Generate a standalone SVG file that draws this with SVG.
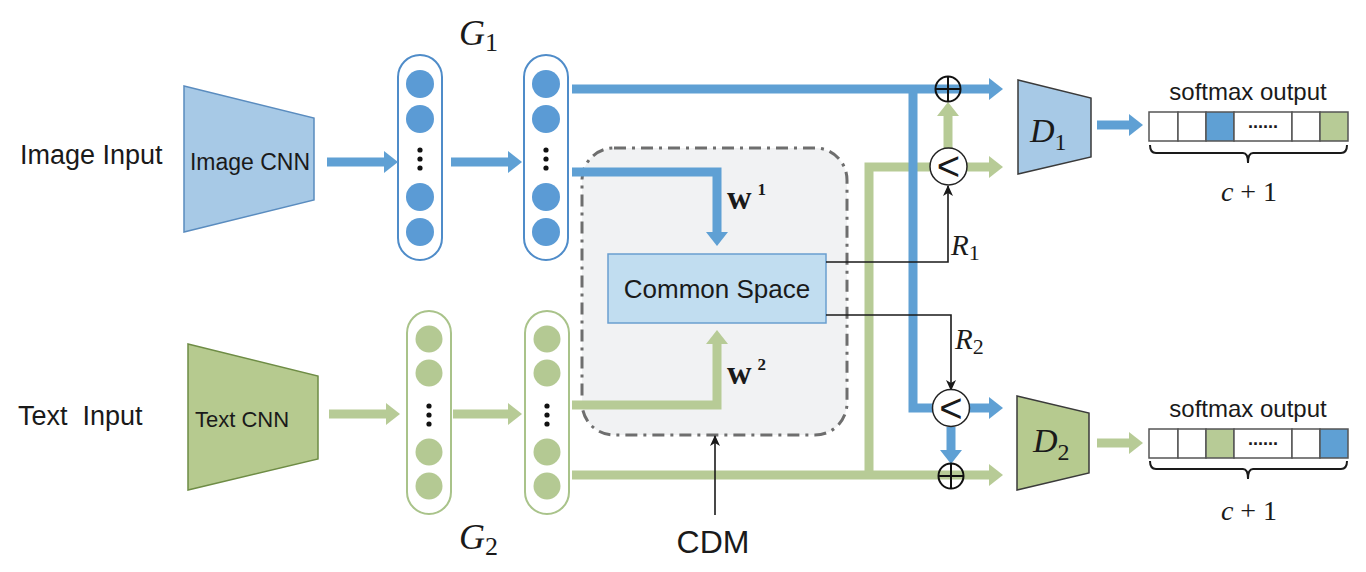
<svg xmlns="http://www.w3.org/2000/svg" width="1366" height="572" viewBox="0 0 1366 572">
<style>
.sans{font-family:"Liberation Sans",Arial,sans-serif;fill:#1a1a1a}
.math{font-family:"Liberation Serif","Times New Roman",serif;fill:#1a1a1a}
.it{font-style:italic}
.bl{fill:none;stroke:#5fa0d4;stroke-width:9}
.gr{fill:none;stroke:#b7cb96;stroke-width:9}
.blk{fill:none;stroke:#1a1a1a;stroke-width:1.6}
.bdot{fill:#5b9bd5}
.gdot{fill:#b4c993}
.dot{fill:#111}
.cell{fill:#fff;stroke:#555;stroke-width:1.5}
</style>
<defs>
<marker id="ab" markerUnits="userSpaceOnUse" markerWidth="14" markerHeight="22" viewBox="0 0 14 22" refX="0" refY="11" orient="auto"><path d="M0,0 L14,11 L0,22 z" fill="#5fa0d4"/></marker>
<marker id="ag" markerUnits="userSpaceOnUse" markerWidth="14" markerHeight="22" viewBox="0 0 14 22" refX="0" refY="11" orient="auto"><path d="M0,0 L14,11 L0,22 z" fill="#b7cb96"/></marker>
<marker id="ak" markerUnits="userSpaceOnUse" markerWidth="11" markerHeight="10" viewBox="0 0 11 10" refX="10" refY="5" orient="auto"><path d="M0,0 L11,5 L0,10 L3,5 z" fill="#1a1a1a"/></marker>
</defs>
<rect width="1366" height="572" fill="#fff"/>

<g id="cdm-box">
<rect x="582" y="148" width="265" height="287" rx="32" fill="#f1f2f3" stroke="#6e6e6e" stroke-width="3" stroke-dasharray="12 6 3 6"/>
</g>

<g id="labels-left">
<text class="sans" x="20" y="164" font-size="27">Image Input</text>
<text class="sans" x="18" y="425" font-size="27" style="white-space:pre">Text  Input</text>
</g>

<g id="image-cnn">
<polygon points="184,86 314,118 314,200 184,232" fill="#a7c9e6" stroke="#5a8cbf" stroke-width="1.5"/>
<text class="sans" x="250" y="170" font-size="23" text-anchor="middle">Image CNN</text>
</g>
<g id="text-cnn">
<polygon points="188,344 318,376 318,459 188,490" fill="#b6ca8f" stroke="#6e8c45" stroke-width="1.5"/>
<text class="sans" x="242" y="427" font-size="22" text-anchor="middle">Text CNN</text>
</g>

<g id="g1-layer1">
<rect x="398" y="55" width="44" height="205" rx="22" fill="#fff" stroke="#4f8cc9" stroke-width="2"/>
<circle class="bdot" cx="420" cy="84" r="14"/><circle class="bdot" cx="420" cy="119" r="14"/>
<circle class="dot" cx="420" cy="150" r="2.6"/><circle class="dot" cx="420" cy="159" r="2.6"/><circle class="dot" cx="420" cy="168" r="2.6"/>
<circle class="bdot" cx="420" cy="197" r="14"/><circle class="bdot" cx="420" cy="232" r="14"/>
</g>
<g id="g1-layer2">
<rect x="524" y="55" width="44" height="205" rx="22" fill="#fff" stroke="#4f8cc9" stroke-width="2"/>
<circle class="bdot" cx="546" cy="84" r="14"/><circle class="bdot" cx="546" cy="119" r="14"/>
<circle class="dot" cx="546" cy="150" r="2.6"/><circle class="dot" cx="546" cy="159" r="2.6"/><circle class="dot" cx="546" cy="168" r="2.6"/>
<circle class="bdot" cx="546" cy="197" r="14"/><circle class="bdot" cx="546" cy="232" r="14"/>
</g>
<g id="g2-layer1">
<rect x="407" y="311" width="44" height="203" rx="22" fill="#fff" stroke="#a9c38a" stroke-width="2"/>
<circle class="gdot" cx="429" cy="339" r="13.5"/><circle class="gdot" cx="429" cy="373" r="13.5"/>
<circle class="dot" cx="429" cy="406" r="2.6"/><circle class="dot" cx="429" cy="415" r="2.6"/><circle class="dot" cx="429" cy="424" r="2.6"/>
<circle class="gdot" cx="429" cy="452" r="13.5"/><circle class="gdot" cx="429" cy="486" r="13.5"/>
</g>
<g id="g2-layer2">
<rect x="525" y="311" width="44" height="203" rx="22" fill="#fff" stroke="#a9c38a" stroke-width="2"/>
<circle class="gdot" cx="547" cy="339" r="13.5"/><circle class="gdot" cx="547" cy="373" r="13.5"/>
<circle class="dot" cx="547" cy="406" r="2.6"/><circle class="dot" cx="547" cy="415" r="2.6"/><circle class="dot" cx="547" cy="424" r="2.6"/>
<circle class="gdot" cx="547" cy="452" r="13.5"/><circle class="gdot" cx="547" cy="486" r="13.5"/>
</g>

<g id="g-labels">
<text class="math it" x="459" y="45" font-size="36">G<tspan font-style="normal" font-size="26" dy="6">1</tspan></text>
<text class="math it" x="459" y="549" font-size="36">G<tspan font-style="normal" font-size="26" dy="6">2</tspan></text>
</g>

<g id="common-space">
<rect x="608" y="254" width="218" height="69" fill="#c1ddf0" stroke="#6a9fcf" stroke-width="1.5"/>
<text class="sans" x="717" y="298" font-size="26" text-anchor="middle">Common Space</text>
</g>

<g id="connectors">
<path class="gr" d="M869,475 V167 H930"/>
<line class="bl" x1="327" y1="162" x2="384" y2="162" marker-end="url(#ab)"/>
<line class="bl" x1="451" y1="162" x2="508" y2="162" marker-end="url(#ab)"/>
<line class="bl" x1="572" y1="89" x2="989" y2="89" marker-end="url(#ab)"/>
<path class="bl" d="M572,172 H717 V232" marker-end="url(#ab)"/>
<path class="bl" d="M913,89 V408 H934"/>
<line class="bl" x1="969" y1="408" x2="989" y2="408" marker-end="url(#ab)"/>
<line class="bl" x1="951" y1="427" x2="951" y2="450" marker-end="url(#ab)"/>
<line class="bl" x1="1097" y1="125" x2="1129" y2="125" marker-end="url(#ab)"/>
<line class="gr" x1="329" y1="414" x2="386" y2="414" marker-end="url(#ag)"/>
<line class="gr" x1="453" y1="414" x2="508" y2="414" marker-end="url(#ag)"/>
<line class="gr" x1="572" y1="475" x2="989" y2="475" marker-end="url(#ag)"/>
<path class="gr" d="M572,405 H717 V344" marker-end="url(#ag)"/>
<line class="gr" x1="967" y1="167" x2="989" y2="167" marker-end="url(#ag)"/>
<line class="gr" x1="948" y1="148" x2="948" y2="116" marker-end="url(#ag)"/>
<line class="gr" x1="1097" y1="443" x2="1129" y2="443" marker-end="url(#ag)"/>
<path class="blk" d="M826,262 H948 V186" marker-end="url(#ak)"/>
<path class="blk" d="M826,315 H951 V390" marker-end="url(#ak)"/>
<path class="blk" d="M715,515 V436" marker-end="url(#ak)"/>
</g>

<g id="w-labels">
<text class="math" x="727" y="209" font-size="34" font-weight="bold">w<tspan font-size="17" dy="-14" dx="6">1</tspan></text>
<text class="math" x="727" y="384" font-size="34" font-weight="bold">w<tspan font-size="17" dy="-14" dx="6">2</tspan></text>
</g>

<g id="r-labels">
<text class="math it" x="951" y="255" font-size="29">R<tspan font-style="normal" font-size="22" dy="5">1</tspan></text>
<text class="math it" x="955" y="349" font-size="29">R<tspan font-style="normal" font-size="22" dy="5">2</tspan></text>
</g>

<g id="plus1">
<circle cx="948" cy="89" r="12.5" fill="none" stroke="#111" stroke-width="2"/>
<line x1="935.5" y1="89" x2="960.5" y2="89" stroke="#111" stroke-width="2"/>
<line x1="948" y1="76.5" x2="948" y2="101.5" stroke="#111" stroke-width="2"/>
</g>
<g id="plus2">
<circle cx="951" cy="476" r="12.5" fill="none" stroke="#111" stroke-width="2"/>
<line x1="938.5" y1="476" x2="963.5" y2="476" stroke="#111" stroke-width="2"/>
<line x1="951" y1="463.5" x2="951" y2="488.5" stroke="#111" stroke-width="2"/>
</g>
<g id="cmp1">
<circle cx="948.5" cy="166.5" r="18.5" fill="#fff" stroke="#222" stroke-width="1.5"/>
<text class="sans" x="948.5" y="180" font-size="40" text-anchor="middle">&lt;</text>
</g>
<g id="cmp2">
<circle cx="951" cy="408" r="18.5" fill="#fff" stroke="#222" stroke-width="1.5"/>
<text class="sans" x="951" y="422" font-size="40" text-anchor="middle">&lt;</text>
</g>

<g id="d1">
<polygon points="1018,80 1091,98 1091,157 1018,174" fill="#a7c9e6" stroke="#3a3a3a" stroke-width="1.5"/>
<text class="math it" x="1030" y="142" font-size="34">D<tspan font-style="normal" font-size="24" dy="8">1</tspan></text>
</g>
<g id="d2">
<polygon points="1017,396 1089,413 1089,473 1017,490" fill="#b6ca8f" stroke="#3a3a3a" stroke-width="1.5"/>
<text class="math it" x="1033" y="452" font-size="34">D<tspan font-style="normal" font-size="24" dy="8">2</tspan></text>
</g>

<g id="softmax1">
<text class="sans" x="1248" y="100" font-size="24" text-anchor="middle">softmax output</text>
<rect class="cell" x="1149" y="112" width="29" height="29"/>
<rect class="cell" x="1178" y="112" width="28" height="29"/>
<rect class="cell" x="1206" y="112" width="28" height="29" style="fill:#5fa0d4"/>
<rect class="cell" x="1234" y="112" width="58" height="29"/>
<rect class="cell" x="1292" y="112" width="28" height="29"/>
<rect class="cell" x="1320" y="112" width="28" height="29" style="fill:#b7cb96"/>
<text class="sans" x="1263" y="128" font-size="18" font-weight="bold" text-anchor="middle">......</text>
<path class="blk" style="stroke-width:2" d="M1150,145 Q1150,153 1156,153 H1243 Q1248,153 1248,163 Q1248,153 1253,153 H1341 Q1347,153 1347,145"/>
<text class="math" x="1249" y="201" font-size="28" text-anchor="middle"><tspan font-style="italic">c</tspan> + 1</text>
</g>
<g id="softmax2">
<text class="sans" x="1248" y="417" font-size="24" text-anchor="middle">softmax output</text>
<rect class="cell" x="1149" y="429" width="29" height="29"/>
<rect class="cell" x="1178" y="429" width="28" height="29"/>
<rect class="cell" x="1206" y="429" width="28" height="29" style="fill:#b7cb96"/>
<rect class="cell" x="1234" y="429" width="58" height="29"/>
<rect class="cell" x="1292" y="429" width="28" height="29"/>
<rect class="cell" x="1320" y="429" width="28" height="29" style="fill:#5fa0d4"/>
<text class="sans" x="1263" y="445" font-size="18" font-weight="bold" text-anchor="middle">......</text>
<path class="blk" style="stroke-width:2" d="M1150,461 Q1150,469 1156,469 H1243 Q1248,469 1248,479 Q1248,469 1253,469 H1341 Q1347,469 1347,461"/>
<text class="math" x="1249" y="520" font-size="28" text-anchor="middle"><tspan font-style="italic">c</tspan> + 1</text>
</g>

<g id="cdm-label">
<text class="sans" x="713" y="553" font-size="32" text-anchor="middle">CDM</text>
</g>
</svg>
